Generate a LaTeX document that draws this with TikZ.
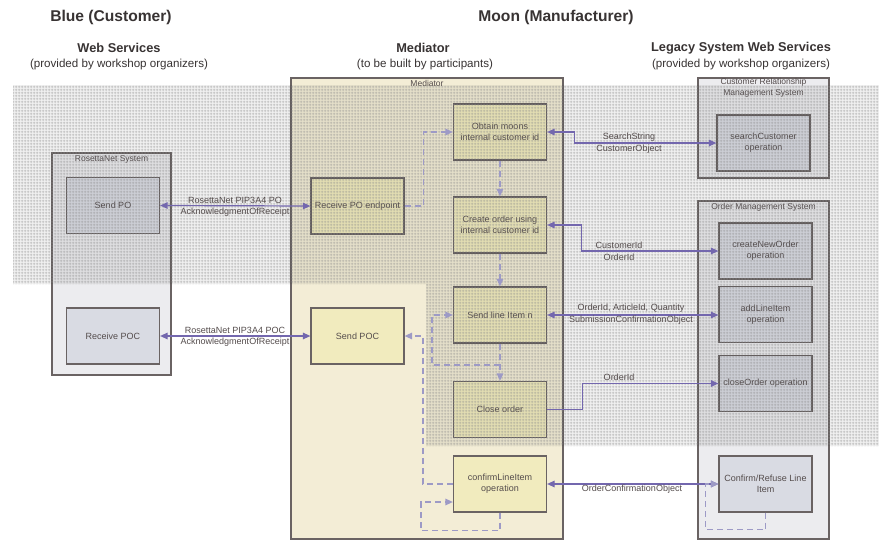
\documentclass[tikz,border=0pt]{standalone}
\usepackage{fontspec}
\setmainfont{Liberation Sans}
\usetikzlibrary{arrows.meta,patterns,calc}

% fine square grid used to shade the machine-side area
\pgfdeclarepatternformonly{finegrid}{\pgfqpoint{0pt}{0pt}}{\pgfqpoint{3pt}{3pt}}{\pgfqpoint{3pt}{3pt}}{%
  \pgfsetlinewidth{0.8pt}%
  \pgfpathmoveto{\pgfqpoint{0pt}{1.5pt}}\pgfpathlineto{\pgfqpoint{3pt}{1.5pt}}%
  \pgfpathmoveto{\pgfqpoint{1.5pt}{0pt}}\pgfpathlineto{\pgfqpoint{1.5pt}{3pt}}%
  \pgfusepath{stroke}}

\definecolor{titlec}{HTML}{383333}
\definecolor{textc}{HTML}{544C4C}
\definecolor{boxline}{HTML}{6A6363}
\definecolor{sysfill}{HTML}{ECECEF}
\definecolor{opfill}{HTML}{D9DBE3}
\definecolor{medfill}{HTML}{F3EDD6}
\definecolor{medop}{HTML}{F1EBBE}
\definecolor{flowc}{HTML}{7367AE}
\definecolor{dashc}{HTML}{9D9AC6}
\definecolor{gridc}{HTML}{8A8A8A}

\begin{document}
\begin{tikzpicture}[x=1pt,y=-1pt,
  font=\fontsize{9}{11}\selectfont,
  >={Triangle[length=7.5pt,width=6.5pt]},
  box/.style={draw=boxline, line width=1.2pt, text=textc, align=center, inner sep=2pt},
  system/.style={box, fill=sysfill},
  mediatorbox/.style={box, fill=medfill},
  grayop/.style={box, fill=opfill},
  yellowop/.style={box, fill=medop},
  clabel/.style={text=textc, font=\fontsize{8.5}{10.5}\selectfont, align=center, inner sep=0pt, below},
  lbl/.style={text=textc, inner sep=0pt},
  flow/.style={draw=flowc, line width=1.2pt},
  dflow/.style={draw=dashc, line width=1.4pt, dash pattern=on 6pt off 4pt, ->},
  maintitle/.style={text=titlec, font=\fontsize{15.6}{18}\selectfont\bfseries},
  coltitle/.style={text=titlec, font=\fontsize{12.8}{15}\selectfont\bfseries},
  colsub/.style={text=titlec, font=\fontsize{11.6}{14}\selectfont},
]
\useasboundingbox (0,0) rectangle (879,541);
\fill[white] (0,0) rectangle (879,541);

% ---- headings
\node[maintitle] at (111,17) {Blue (Customer)};
\node[maintitle] at (556,17) {Moon (Manufacturer)};
\node[coltitle] at (119,48) {Web Services};
\node[colsub]   at (119,64) {(provided by workshop organizers)};
\node[coltitle] at (423,48) {Mediator};
\node[colsub]   at (425,64) {(to be built by participants)};
\node[coltitle] at (741,48) {Legacy System Web Services};
\node[colsub]   at (741,64) {(provided by workshop organizers)};

% ---- system containers
\node[system, minimum width=119pt, minimum height=222pt] (rosetta) at (111.5,264) {};
\node[clabel] at ($(rosetta.north)+(0,3)$) {RosettaNet System};
\node[mediatorbox, minimum width=272pt, minimum height=461pt] (mediator) at (427,308.5) {};
\node[clabel] at ($(mediator.north)+(0,3)$) {Mediator};
\node[system, minimum width=131pt, minimum height=100pt] (crm) at (763.5,128) {};
\node[clabel] at ($(crm.north)+(0,1)$) {Customer Relationship\\Management System};
\node[system, minimum width=131pt, minimum height=338pt] (oms) at (763.5,370) {};
\node[clabel] at ($(oms.north)+(0,3)$) {Order Management System};

% ---- operations
\begin{scope}[every node/.append style={minimum width=93pt, minimum height=56pt}]
\node[grayop] (sendpo) at (113,205.5) {Send PO};
\node[grayop] (rpoc) at (113,336) {Receive POC};
\node[yellowop] (rpoe) at (357.5,206) {Receive PO endpoint};
\node[yellowop] (sendpoc) at (357.5,336) {Send POC};
\node[yellowop] (obtain) at (500,132) {Obtain moons\\internal customer id};
\node[yellowop] (create) at (500,225) {Create order using\\internal customer id};
\node[yellowop] (sendline) at (500,315) {Send line Item n};
\node[yellowop] (close) at (500,409.5) {Close order};
\node[yellowop] (confirm) at (500,484) {confirmLineItem\\operation};
\node[grayop] (search) at (763.5,143) {searchCustomer\\operation};
\node[grayop] (cno) at (765.5,251) {createNewOrder\\operation};
\node[grayop] (aop) at (765.5,314.5) {addLineItem\\operation};
\node[grayop] (cop) at (765.5,383.5) {closeOrder operation};
\node[grayop] (cref) at (765.5,484) {Confirm/Refuse Line\\Item};
\end{scope}

% ---- shaded area over the automated part
\begin{scope}
\fill[black, fill opacity=0.06] (13,85) -- (879,85) -- (879,446) -- (426,446) -- (426,284) -- (13,284) -- cycle;
\fill[pattern=finegrid, pattern color=gridc, fill opacity=0.6] (13,85) -- (879,85) -- (879,446) -- (426,446) -- (426,284) -- (13,284) -- cycle;
\end{scope}

% ---- message flows
\draw[flow, <->] (sendpo.east) -- (rpoe.west);
\draw[flow, <->] (rpoc.east) -- (sendpoc.west);
\draw[flow, <->] (obtain.east) -- ++(27,0) |- (search.west);
\draw[flow, <->] (create.east) -- ++(34,0) |- (cno.west);
\draw[flow, <->] (sendline.east) -- (sendline.east -| aop.west);
\draw[flow, ->] (close.east) -- ++(35,0) |- (cop.west);
\draw[flow, <->] (confirm.east) -- (cref.west);

% ---- control flow inside the mediator
\coordinate (lp) at (500,365);
\draw[dflow] (rpoe.east) -- ++(19,0) |- (obtain.west);
\draw[dflow] (obtain.south) -- (create.north);
\draw[dflow] (create.south) -- (sendline.north);
\draw[dflow] (sendline.south) -- (close.north);
\draw[dflow] (lp) -- ++(-68,0) |- (sendline.west);
\draw[dflow] (confirm.west) -- ++(-30,0) |- (sendpoc.east);
\draw[dflow] (confirm.south) -- ++(0,18) -- ++(-79,0) |- ($(confirm.west)+(0,18)$);
\draw[dflow] (cref.south) -- ++(0,17) -- ++(-60,0) |- (cref.west);

% ---- message labels
\node[lbl] at (235,200) {RosettaNet PIP3A4 PO};
\node[lbl] at (235,212) {AcknowledgmentOfReceipt};
\node[lbl] at (235,330) {RosettaNet PIP3A4 POC};
\node[lbl] at (235,342) {AcknowledgmentOfReceipt};
\node[lbl] at (629,137) {SearchString};
\node[lbl] at (629,149) {CustomerObject};
\node[lbl] at (619,245) {CustomerId};
\node[lbl] at (619,257) {OrderId};
\node[lbl] at (631,308) {OrderId, ArticleId, Quantity};
\node[lbl] at (631,320) {SubmissionConfirmationObject};
\node[lbl] at (619,377) {OrderId};
\node[lbl] at (632,489) {OrderConfirmationObject};
\end{tikzpicture}
\end{document}
